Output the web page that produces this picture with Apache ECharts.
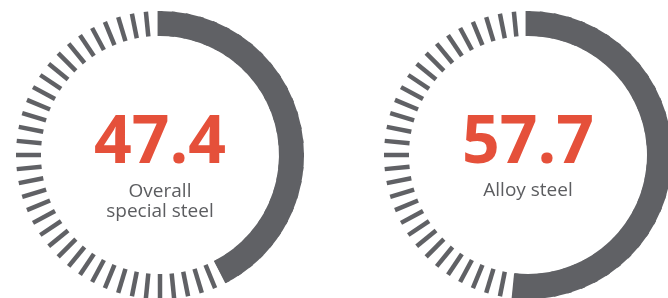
<!DOCTYPE html>
<html lang="en">
<head>
    <meta charset="utf-8"/>
    <title>Special steel gauges</title>
    <script src="https://cdn.jsdelivr.net/npm/echarts@6/dist/echarts.min.js" type="text/javascript"></script>
    <style>
        html, body { margin: 0; padding: 0; background: #fff; }
        #gauges { width: 668px; height: 298px; }
    </style>
</head>
<body>
<div id="gauges"></div>
<script>
    // values
    var gaugeNames = ['Overall\nspecial steel', 'Alloy steel'];
    var gaugeValues = [47.4, 57.7];
    var scaleMax = 111.5;   // arc length in the picture is not a plain percent
    var dashCount = 64;

    var grey = '#606165', red = '#e5503a', labelGrey = '#5c5d60';
    var centers = [[160, 155], [528, 155]];

    var myChart = echarts.init(document.getElementById('gauges'));

    var series = gaugeValues.map(function (v, i) {
        var lines = gaugeNames[i].split('\n').length;
        return {
            type: 'gauge',
            center: centers[i],
            radius: 144,
            startAngle: 90,
            endAngle: -270,
            clockwise: true,
            min: 0,
            max: scaleMax,
            splitNumber: dashCount,
            pointer: {show: false},
            anchor: {show: false},
            axisLine: {show: false, lineStyle: {width: 25}},
            progress: {show: true, width: 25, roundCap: false, itemStyle: {color: grey}},
            axisTick: {show: false},
            splitLine: {
                show: true,
                distance: -25,
                length: 25,
                lineStyle: {color: grey, width: 4.5, cap: 'butt'}
            },
            axisLabel: {show: false},
            title: {
                offsetCenter: [0, lines > 1 ? 47 : 36],
                color: labelGrey,
                fontFamily: 'Open Sans',
                fontSize: 19,
                lineHeight: 20
            },
            detail: {
                offsetCenter: [0, -11],
                color: red,
                fontFamily: 'Open Sans',
                fontWeight: 'bold',
                fontSize: 66,
                formatter: function (val) { return val.toFixed(1); }
            },
            data: [{value: v, name: gaugeNames[i]}]
        };
    });

    myChart.setOption({
        animation: false,
        series: series
    });
</script>
</body>
</html>
